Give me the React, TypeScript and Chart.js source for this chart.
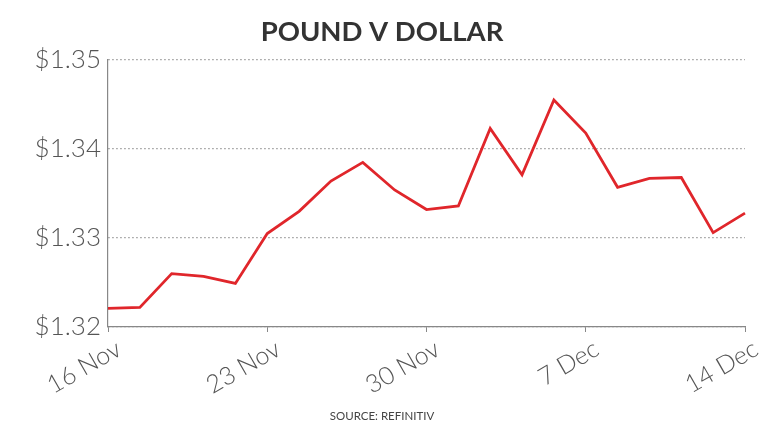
import React, { useEffect, useRef } from "react";
import { Chart, registerables } from "chart.js";

Chart.register(...registerables);

const dateLabels = [
  "16 Nov", "17 Nov", "18 Nov", "19 Nov", "20 Nov",
  "23 Nov", "24 Nov", "25 Nov", "26 Nov", "27 Nov",
  "30 Nov", "1 Dec", "2 Dec", "3 Dec", "4 Dec",
  "7 Dec", "8 Dec", "9 Dec", "10 Dec", "11 Dec",
  "14 Dec",
];

const gbpUsd = [
  1.3221, 1.3222, 1.326, 1.3257, 1.3249,
  1.3305, 1.333, 1.3364, 1.3385, 1.3354,
  1.3332, 1.3336, 1.3423, 1.3371, 1.3455,
  1.3418, 1.3357, 1.3367, 1.3368, 1.3306,
  1.3328,
];

const shownDates = ["16 Nov", "23 Nov", "30 Nov", "7 Dec", "14 Dec"];

const yMin = 1.32;
const yMax = 1.35;
const yStep = 0.01;

const titleText = "POUND V DOLLAR";
const sourceText = "SOURCE: REFINITIV";

export default function App() {
  const canvasRef = useRef<HTMLCanvasElement | null>(null);

  useEffect(() => {
    document.body.style.margin = "0";
    const canvas = canvasRef.current;
    if (!canvas) return;
    const chart = new Chart(canvas, {
      type: "line",
      data: {
        labels: dateLabels,
        datasets: [
          {
            data: gbpUsd,
            borderColor: "#e0262b",
            borderWidth: 2.8,
            pointRadius: 0,
            tension: 0,
            fill: false,
          },
        ],
      },
      options: {
        animation: false,
        responsive: false,
        layout: { padding: { left: 19, right: 23, top: 0, bottom: 0 } },
        plugins: {
          legend: { display: false },
          tooltip: { enabled: false },
          title: {
            display: true,
            text: titleText,
            color: "#333333",
            font: { family: "Lato", size: 27.5, weight: "bold", lineHeight: 1.2 },
            padding: { top: 16, bottom: 11 },
          },
          subtitle: {
            display: true,
            position: "bottom",
            text: sourceText,
            color: "#444444",
            font: { family: "Lato", size: 11.5, weight: "normal", lineHeight: 1.2 },
            padding: { top: 0, bottom: 9 },
          },
        },
        scales: {
          x: {
            type: "category",
            offset: false,
            afterFit: (scale: any) => {
              scale.height = 105 - 22.8;
            },
            grid: {
              display: true,
              drawOnChartArea: false,
              drawTicks: true,
              tickLength: 5,
              color: (ctx: any) =>
                shownDates.includes(dateLabels[ctx.index]) ? "#888888" : "rgba(0,0,0,0)",
            },
            border: { display: true, color: "#888888", width: 1.2 },
            ticks: {
              autoSkip: false,
              maxRotation: 30,
              minRotation: 30,
              padding: 2,
              labelOffset: 11,
              color: "#555555",
              font: { family: "Lato", size: 25, weight: "300" },
              callback: (_v: any, i: number) =>
                shownDates.includes(dateLabels[i]) ? dateLabels[i] : "",
            },
          },
          y: {
            min: yMin,
            max: yMax,
            afterFit: (scale: any) => {
              scale.width = 89;
            },
            grid: {
              display: true,
              drawTicks: false,
              color: "#999999",
              lineWidth: 1.2,
            },
            border: { display: true, color: "#888888", width: 1.2, dash: [1.5, 2.5] },
            ticks: {
              stepSize: yStep,
              padding: 7,
              color: "#555555",
              font: { family: "Lato", size: 26, weight: "300" },
              callback: (v: any) => "$" + Number(v).toFixed(2),
            },
          },
        },
      },
    });
    return () => chart.destroy();
  }, []);

  return (
    <div style={{ position: "fixed", left: 0, top: 0, width: 768, height: 432, background: "#ffffff" }}>
      <canvas ref={canvasRef} width={768} height={432} />
    </div>
  );
}
